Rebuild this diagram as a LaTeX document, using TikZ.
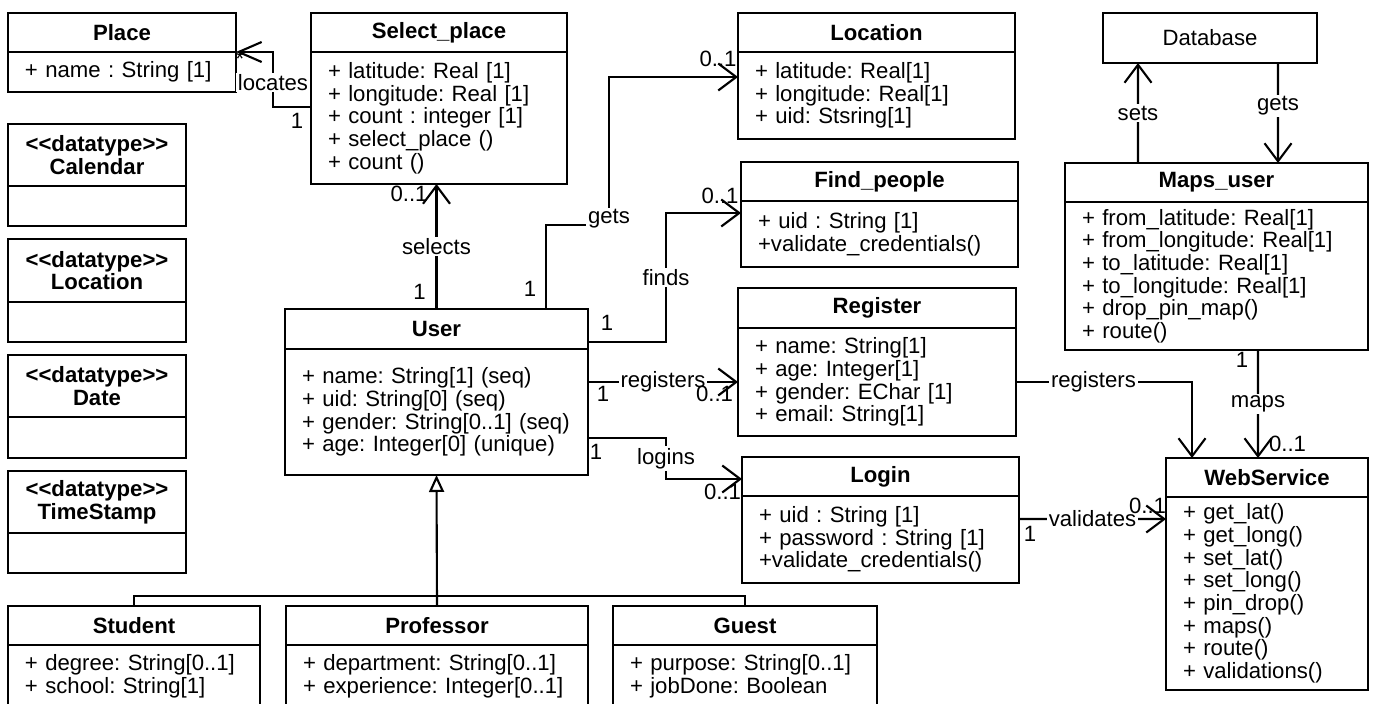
\documentclass[tikz,border=0pt]{standalone}
\usepackage{fontspec}
\setmainfont{Liberation Sans}
\usepackage{tikz}
\usetikzlibrary{arrows.meta}
\newcommand\umlfont{\fontsize{12.6}{12.9}\selectfont\frenchspacing}
\tikzset{
    % Open barbs for the associations
    >={Straight Barb[length=3.6mm,width=5.4mm]},
%
    % Class boxes: a title part and an attribute part
    class head/.style 2 args={draw, line width=1.2pt, outer sep=0, inner sep=0,
        font=\umlfont\bfseries, align=center,
        minimum width=#1, minimum height=#2, anchor=north west},
    class body/.style 2 args={draw, line width=1.2pt, outer sep=0, inner sep=0,
        font=\umlfont, text width=#1, minimum height=#2, anchor=north,
        execute at begin node={\leftskip=3.4mm}},
    % Next the lines
    assoc/.style={line width=1.2pt, ->},
    inherit/.style={line width=1.2pt, -{Triangle[open,length=3.4mm,width=3mm]}},
    % Texts sitting on the lines
    role/.style={font=\umlfont, fill=white, inner sep=1pt},
    mult/.style={font=\umlfont, inner sep=1pt},
}

\begin{document}
\begin{tikzpicture}[x=0.2mm, y=-0.2mm]
\useasboundingbox (0,0) rectangle (1374,704);

% left column
\node (place) [class head={4.56cm}{7.8mm}] at (8,13) {Place};
\node (placeb) [class body={4.56cm}{8mm}] at (place.south) {+ name : String [1]};
\node (calendar) [class head={3.56cm}{12.4mm}] at (8,124) {<{}<datatype>{}>\\Calendar};
\node (calendarb) [class body={3.56cm}{8mm}] at (calendar.south) {};
\node (loctype) [class head={3.56cm}{12.6mm}] at (8,239) {<{}<datatype>{}>\\Location};
\node (loctypeb) [class body={3.56cm}{8mm}] at (loctype.south) {};
\node (date) [class head={3.56cm}{12.4mm}] at (8,355) {<{}<datatype>{}>\\Date};
\node (dateb) [class body={3.56cm}{8.2mm}] at (date.south) {};
\node (stamp) [class head={3.56cm}{12.4mm}] at (8,471) {<{}<datatype>{}>\\TimeStamp};
\node (stampb) [class body={3.56cm}{8mm}] at (stamp.south) {};

% user and the classes it uses
\node (selp) [class head={5.12cm}{7.8mm}] at (311,13) {Select\_place};
\node (selpb) [class body={5.12cm}{26.4mm}] at (selp.south)
    {+ latitude: Real [1]\\+ longitude: Real [1]\\+ count : integer [1]\\+ select\_place ()\\+ count ()};
\node (user) [class head={6.06cm}{8mm}] at (285,309) {User};
\node (userb) [class body={6.06cm}{25.2mm}] at (user.south)
    {+ name: String[1] (seq)\\+ uid: String[0] (seq)\\+ gender: String[0..1] (seq)\\+ age: Integer[0] (unique)};
\node (loc) [class head={5.54cm}{7.8mm}] at (738,13) {Location};
\node (locb) [class body={5.54cm}{17.4mm}] at (loc.south)
    {+ latitude: Real[1]\\+ longitude: Real[1]\\+ uid: Stsring[1]};
\node (find) [class head={5.54cm}{7.8mm}] at (741,162) {Find\_people};
\node (findb) [class body={5.54cm}{13.2mm}] at (find.south)
    {+ uid : String [1]\\+validate\_credentials()};
\node (reg) [class head={5.56cm}{8mm}] at (738,288) {Register};
\node (regb) [class body={5.56cm}{21.6mm}] at (reg.south)
    {+ name: String[1]\\+ age: Integer[1]\\+ gender: EChar [1]\\+ email: String[1]};
\node (login) [class head={5.54cm}{7.8mm}] at (742,457) {Login};
\node (loginb) [class body={5.54cm}{17.4mm}] at (login.south)
    {+ uid : String [1]\\+ password : String [1]\\+validate\_credentials()};

% right column
\node (db) [draw, line width=1.2pt, outer sep=0, font=\umlfont,
    minimum width=4.28cm, minimum height=10mm, anchor=north west] at (1103,13) {Database};
\node (maps) [class head={6.06cm}{7.8mm}] at (1065,163) {Maps\_user};
\node (mapsb) [class body={6.06cm}{29.6mm}] at (maps.south)
    {+ from\_latitude: Real[1]\\+ from\_longitude: Real[1]\\+ to\_latitude: Real[1]\\+ to\_longitude: Real[1]\\+ drop\_pin\_map()\\+ route()};
\node (ws) [class head={4.04cm}{7.8mm}] at (1166,458) {WebService};
\node (wsb) [class body={4.04cm}{38.6mm}] at (ws.south)
    {+ get\_lat()\\+ get\_long()\\+ set\_lat()\\+ set\_long()\\+ pin\_drop()\\+ maps()\\+ route()\\+ validations()};

% kinds of user
\node (stud) [class head={5.04cm}{7.8mm}] at (8,606) {Student};
\node (studb) [class body={5.04cm}{12.4mm}] at (stud.south)
    {+ degree: String[0..1]\\+ school: String[1]};
\node (prof) [class head={6.04cm}{7.8mm}] at (286,606) {Professor};
\node (profb) [class body={6.04cm}{12.4mm}] at (prof.south)
    {+ department: String[0..1]\\+ experience: Integer[0..1]};
\node (guest) [class head={5.28cm}{7.8mm}] at (613,606) {Guest};
\node (guestb) [class body={5.28cm}{12.4mm}] at (guest.south)
    {+ purpose: String[0..1]\\+ jobDone: Boolean};

% associations
\draw [assoc, >={Straight Barb[length=4.6mm,width=4mm]}]
    ([yshift=2.2mm]selpb.west) node [mult, xshift=-2.8mm, yshift=-2.8mm] {1}
    -- ++(-38,0) |- node [role, pos=0.25, yshift=-0.6mm] {locates} (placeb.north east)
    node [mult, xshift=0.8mm, yshift=-1.4mm] {*};
\draw [assoc] (user.north) node [mult, xshift=-3.4mm, yshift=3.5mm] {1}
    -- node [role] {selects} (user.north |- selpb.south)
    node [mult, xshift=-5.5mm, yshift=-2mm] {0..1};
\draw [assoc] ([xshift=21.9mm]user.north) node [mult, xshift=-3.2mm, yshift=4mm] {1}
    |- ++(63,-84) node [role, yshift=1.2mm] {gets}
    |- ([yshift=3.7mm]locb.west) node [mult, xshift=-4mm, yshift=3.7mm] {0..1};
\draw [assoc] ([yshift=-2.6mm]user.east) node [mult, xshift=3.8mm, yshift=3.8mm] {1}
    -- ++(78,0) |- node [role, pos=0.25] {finds} ([yshift=4.2mm]findb.west)
    node [mult, xshift=-4.2mm, yshift=3.4mm] {0..1};
\draw [assoc] (regb.west -| userb.east) node [mult, xshift=3mm, yshift=-2.3mm] {1}
    -- node [role] {registers} (regb.west)
    node [mult, xshift=-4.7mm, yshift=-2.3mm] {0..1};
\draw [assoc] ([yshift=-5.2mm]userb.east) node [mult, xshift=1.6mm, yshift=-2.7mm] {1}
    -- ++(78,0) |- node [role, pos=0.25] {logins} ([yshift=-0.5mm]login.west)
    node [mult, xshift=-3.9mm, yshift=-2.5mm] {0..1};
\draw [assoc] (regb.east) -| node [role, pos=0.22] {registers} ([xshift=-15mm]ws.north);
\draw [assoc] ([xshift=8.3mm]mapsb.south) node [mult, xshift=-3.2mm, yshift=-2mm] {1}
    -- node [role] {maps} ([xshift=-1.8mm]ws.north)
    node [mult, xshift=5.9mm, yshift=2.9mm] {0..1};
\draw [assoc] ([yshift=4.1mm]loginb.east) node [mult, xshift=2.2mm, yshift=-2.9mm] {1}
    -- node [role] {validates} ([yshift=14.9mm]wsb.west)
    node [mult, xshift=-3.7mm, yshift=2.6mm] {0..1};
\draw [assoc] ([xshift=-15.7mm]maps.north) -- node [role] {sets} ([xshift=-14.4mm]db.south);
\draw [assoc] ([xshift=13.6mm]db.south) -- node [role, pos=0.43] {gets} ([xshift=12.3mm]maps.north);

% generalisation
\draw [inherit] (prof.north) -- (userb.south);
\draw [line width=1.2pt] (stud.north) -- ++(0,-10) -| (guest.north);

\end{tikzpicture}
\end{document}
